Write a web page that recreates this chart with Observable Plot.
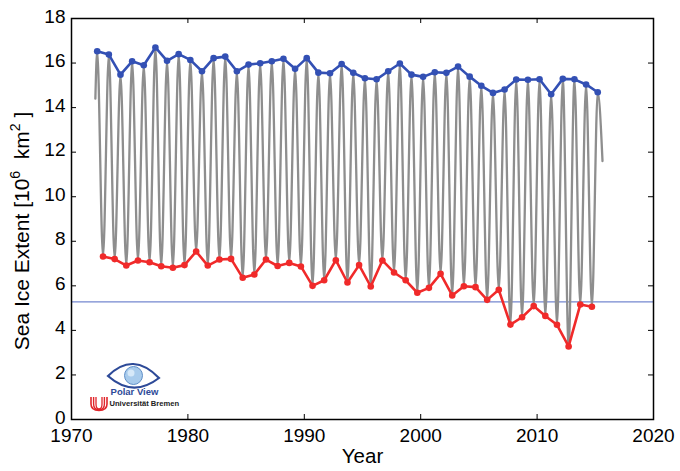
<!DOCTYPE html>
<html>
<head>
<meta charset="utf-8">
<script src="https://cdn.jsdelivr.net/npm/d3@7"></script>
<script src="https://cdn.jsdelivr.net/npm/@observablehq/plot@0.6"></script>
<style>
  html, body { margin: 0; padding: 0; background: #fff; }
  #chart { position: relative; width: 680px; height: 471px; }
</style>
</head>
<body>
<div id="chart"></div>
<script>
// ---- data ----
const maxYears = [1972,1973,1974,1975,1976,1977,1978,1979,1980,1981,1982,1983,1984,1985,1986,1987,1988,1989,1990,1991,1992,1993,1994,1995,1996,1997,1998,1999,2000,2001,2002,2003,2004,2005,2006,2007,2008,2009,2010,2011,2012,2013,2014,2015];
const maxExtent = [16.53,16.38,15.48,16.08,15.90,16.70,16.10,16.40,16.14,15.63,16.22,16.29,15.63,15.93,15.99,16.08,16.19,15.74,16.22,15.57,15.54,15.96,15.56,15.32,15.27,15.63,15.98,15.48,15.38,15.59,15.56,15.84,15.39,14.98,14.66,14.81,15.26,15.25,15.27,14.60,15.29,15.27,15.04,14.69];
const minYears = [1972,1973,1974,1975,1976,1977,1978,1979,1980,1981,1982,1983,1984,1985,1986,1987,1988,1989,1990,1991,1992,1993,1994,1995,1996,1997,1998,1999,2000,2001,2002,2003,2004,2005,2006,2007,2008,2009,2010,2011,2012,2013,2014];
const minExtent = [7.32,7.20,6.91,7.14,7.06,6.88,6.81,6.93,7.54,6.91,7.18,7.21,6.36,6.51,7.18,6.89,7.03,6.87,6.00,6.25,7.15,6.15,6.93,5.97,7.14,6.60,6.25,5.69,5.91,6.54,5.57,5.98,5.94,5.37,5.82,4.26,4.59,5.09,4.65,4.25,3.28,5.16,5.06];
const maxMonth = 3;   // March maximum
const minMonth = 9;   // September minimum
const seriesStart = {t: 1972.05, v: 14.4};   // first value of the seasonal curve
const seriesEnd = {t: 2015.62, v: 11.6};     // last value of the seasonal curve
const referenceLevel = [5.28];
const xTicks = [1970,1980,1990,2000,2010,2020];
const yTicks = [0,2,4,6,8,10,12,14,16,18];

// ---- derived tables ----
const maxData = maxYears.map((y, i) => ({t: y + (maxMonth - 0.5) / 12, v: maxExtent[i]}));
const minData = minYears.map((y, i) => ({t: y + (minMonth - 0.5) / 12, v: minExtent[i]}));
const seasonal = [seriesStart];
maxData.forEach((d, i) => { seasonal.push(d); if (minData[i]) seasonal.push(minData[i]); });
seasonal.push(seriesEnd);

const W = 680, H = 471, mL = 71, mR = 27, mT = 18, mB = 52;
const fw = W - mL - mR, fh = H - mT - mB, tl = 5;
const blue = "#3350b4", red = "#f02a2a";

const chart = Plot.plot({
  width: W, height: H,
  marginLeft: mL, marginRight: mR, marginTop: mT, marginBottom: mB,
  style: {fontFamily: "'Liberation Sans', Arial, Helvetica, sans-serif", background: "#fff", color: "#000"},
  x: {domain: [1970, 2020]},
  y: {domain: [0, 18]},
  marks: [
    Plot.ruleY(referenceLevel, {stroke: "#7487cf", strokeWidth: 1.3}),
    Plot.line(seasonal, {x: "t", y: "v", stroke: "#8e8e8e", strokeWidth: 2.3, curve: "monotone-x"}),
    Plot.line(maxData, {x: "t", y: "v", stroke: blue, strokeWidth: 2.6}),
    Plot.dot(maxData, {x: "t", y: "v", r: 3.3, fill: blue, stroke: "none"}),
    Plot.line(minData, {x: "t", y: "v", stroke: red, strokeWidth: 2.6}),
    Plot.dot(minData, {x: "t", y: "v", r: 3.3, fill: red, stroke: "none"}),
    Plot.tickX(xTicks, {x: d => d, insetTop: fh - tl, stroke: "#000", strokeWidth: 1}),
    Plot.tickX(xTicks, {x: d => d, insetBottom: fh - tl, stroke: "#000", strokeWidth: 1}),
    Plot.tickY(yTicks, {y: d => d, insetRight: fw - tl, stroke: "#000", strokeWidth: 1}),
    Plot.tickY(yTicks, {y: d => d, insetLeft: fw - tl, stroke: "#000", strokeWidth: 1}),
    Plot.frame({stroke: "#000", strokeWidth: 1.5}),
    Plot.axisX(xTicks, {tickSize: 0, tickPadding: 9, fontSize: 19, tickFormat: d => String(d), label: null}),
    Plot.axisY(yTicks, {tickSize: 0, tickPadding: 6, fontSize: 19, dy: -2, tickFormat: d => String(d), label: null}),
    Plot.text(["Year"], {frameAnchor: "bottom", dy: 43, fontSize: 20.5, fill: "#000"}),
    Plot.text(["YLABEL"], {frameAnchor: "left", textAnchor: "middle", dx: -49, dy: 12, rotate: -90, fontSize: 21, fill: "#000"})
  ]
});
document.getElementById("chart").appendChild(chart);

// y label with superscripts
const svg = d3.select(chart);
svg.selectAll("text").filter(function() { return this.textContent === "YLABEL"; }).each(function() {
  const t = d3.select(this);
  t.text(null);
  t.append("tspan").text("Sea Ice Extent [10");
  t.append("tspan").attr("font-size", 14).attr("dy", -9).text("6");
  t.append("tspan").attr("dy", 9).text("\u00a0\u00a0km");
  t.append("tspan").attr("font-size", 14).attr("dy", -9).text("2");
  t.append("tspan").attr("dy", 9).text("\u00a0]");
});

// Polar View / Universität Bremen logo
const g = svg.append("g").attr("class", "logo");
g.append("rect").attr("x", 86).attr("y", 358).attr("width", 90).attr("height", 56).attr("fill", "#fff");
g.append("path")
  .attr("d", "M108,376 Q133,351 159,378 Q133,398 108,376 Z")
  .attr("fill", "#fff").attr("stroke", "#2d4a98").attr("stroke-width", 2.2);
g.append("circle").attr("cx", 133.5).attr("cy", 375.5).attr("r", 9)
  .attr("fill", "#a8cbec").attr("stroke", "#5f8fc8").attr("stroke-width", 1);
g.append("circle").attr("cx", 131).attr("cy", 373).attr("r", 3.5).attr("fill", "#d6e8f8");
g.append("text").attr("x", 134.5).attr("y", 395).attr("text-anchor", "middle")
  .attr("font-family", "'Liberation Sans', Arial, sans-serif").attr("font-weight", "bold")
  .attr("font-size", 9.5).attr("fill", "#2d4a98").text("Polar View");
// stylised U emblem
[[0, 1.6], [2.6, 1.4], [5, 1.3]].forEach(([o, sw]) => {
  g.append("path")
    .attr("d", `M${91 + o},397 L${91 + o},404 Q${91 + o},${410.5 - o * 0.3} ${99},${410.5 - o * 0.3} Q${107 - o},${410.5 - o * 0.3} ${107 - o},404 L${107 - o},397`)
    .attr("fill", "none").attr("stroke", "#e0262b").attr("stroke-width", sw);
});
g.append("text").attr("x", 109.5).attr("y", 406).attr("text-anchor", "start")
  .attr("font-family", "'Liberation Sans', Arial, sans-serif").attr("font-weight", "bold")
  .attr("font-size", 7.6).attr("fill", "#222").text("Universität Bremen");
</script>
</body>
</html>
